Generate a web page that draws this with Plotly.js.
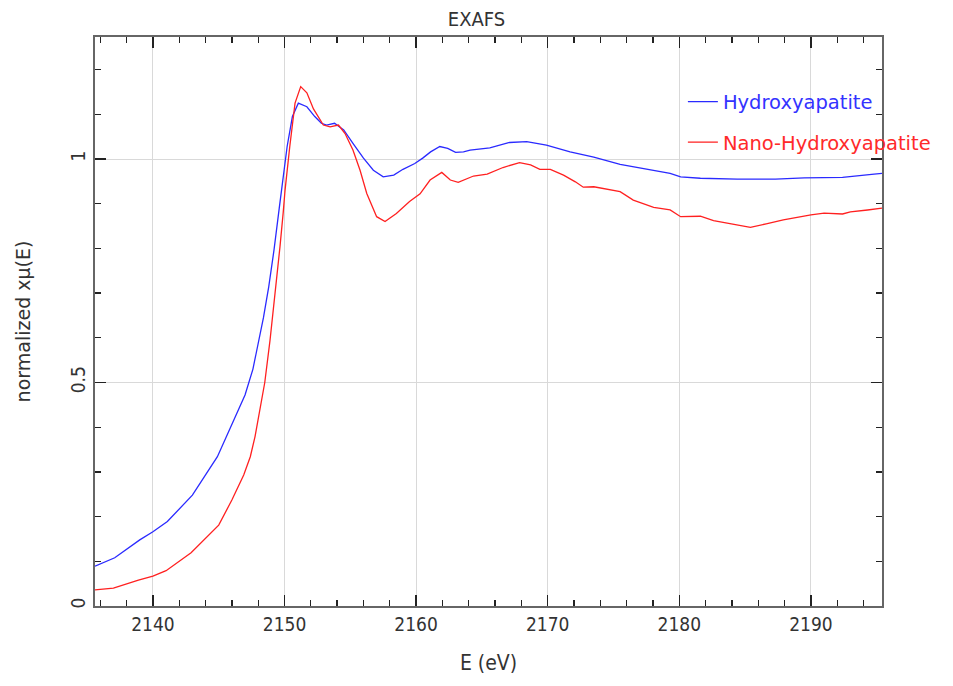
<!DOCTYPE html>
<html>
<head>
<meta charset="utf-8">
<script src="https://cdn.plot.ly/plotly-3.0.1.min.js"></script>
<style>html,body{margin:0;padding:0;background:#fff}#chart{width:953px;height:686px}</style>
</head>
<body>
<div id="chart"></div>
<script>
const seriesNames = ["Hydroxyapatite", "Nano-Hydroxyapatite"];

const energyHA = [2135.6,2137.1,2139.0,2140.0,2141.1,2143.0,2144.9,2146.0,2147.0,2147.6,2148.0,2148.4,2148.8,2149.2,2149.6,2149.9,2150.2,2150.6,2151.05,2151.7,2152.3,2152.8,2153.2,2153.8,2154.5,2155.2,2156.0,2156.75,2157.5,2158.3,2159.0,2159.9,2160.5,2161.1,2161.8,2162.4,2163.0,2163.6,2164.1,2165.6,2167.1,2168.4,2169.9,2171.7,2173.5,2175.5,2177.5,2179.3,2180.1,2181.6,2184.4,2187.3,2189.5,2192.4,2194.8,2195.4];
const muHA = [0.089,0.108,0.148,0.166,0.189,0.248,0.334,0.405,0.472,0.530,0.585,0.645,0.714,0.796,0.890,0.960,1.028,1.095,1.125,1.117,1.095,1.080,1.076,1.080,1.065,1.035,1.002,0.975,0.960,0.964,0.977,0.990,1.002,1.016,1.028,1.024,1.015,1.016,1.020,1.025,1.037,1.039,1.031,1.016,1.004,0.988,0.977,0.968,0.960,0.957,0.955,0.955,0.958,0.959,0.966,0.968];

const energyNano = [2135.6,2137.0,2138.9,2140.0,2141.0,2142.9,2145.0,2146.0,2146.9,2147.4,2147.76,2148.1,2148.3,2148.5,2148.9,2149.35,2149.66,2149.9,2150.04,2150.4,2150.8,2151.23,2151.7,2152.2,2152.95,2153.46,2154.1,2154.6,2155.2,2155.74,2156.25,2157.0,2157.64,2158.5,2159.5,2160.3,2161.06,2161.95,2162.6,2163.2,2164.36,2165.4,2166.6,2167.86,2168.7,2169.4,2170.2,2171.2,2172.1,2172.7,2173.5,2175.5,2176.5,2178.05,2179.3,2180.1,2181.6,2182.6,2185.4,2186.6,2187.9,2190.0,2191.0,2192.4,2193.0,2194.3,2195.4];
const muNano = [0.036,0.040,0.058,0.067,0.079,0.119,0.181,0.237,0.293,0.334,0.379,0.431,0.461,0.500,0.595,0.714,0.805,0.880,0.930,1.028,1.125,1.162,1.148,1.112,1.076,1.072,1.076,1.057,1.020,0.975,0.923,0.871,0.860,0.878,0.905,0.922,0.953,0.970,0.953,0.948,0.962,0.966,0.981,0.992,0.987,0.977,0.977,0.964,0.949,0.937,0.938,0.927,0.908,0.892,0.886,0.871,0.872,0.862,0.847,0.855,0.864,0.875,0.879,0.877,0.882,0.886,0.890];

const xTickVals = [2140,2150,2160,2170,2180,2190];
const yTickVals = [0,0.5,1];
const yTickText = ["0","0.5","1"];

const narrow = "Liberation Sans Narrow, DejaVu Sans Condensed, sans-serif";
const tickFont = {family: narrow, size: 19, color: "#333"};

const traces = [
  {x: energyHA, y: muHA, type: "scatter", mode: "lines", name: '<span style="color:#3333ff">' + seriesNames[0] + '</span>',
   line: {color: "#2a2aff", width: 1.3}, legendgroup: "a"},
  {x: energyNano, y: muNano, type: "scatter", mode: "lines", name: '<span style="color:#ff2a2a">' + seriesNames[1] + '</span>',
   line: {color: "#ff2020", width: 1.3}, legendgroup: "b"}
];

const axisCommon = {
  showline: true, linecolor: "#666", linewidth: 2, mirror: "allticks",
  ticks: "inside", ticklen: 11, tickwidth: 1.5, tickcolor: "#222",
  showgrid: true, gridcolor: "#d9d9d9", gridwidth: 1, zeroline: false,
  tickfont: tickFont
};

const layout = {
  width: 953, height: 686,
  margin: {l: 95, r: 71, t: 37, b: 80},
  paper_bgcolor: "#fff", plot_bgcolor: "#fff",
  title: {text: "EXAFS", font: {family: narrow, size: 20, color: "#333"}, x: 0.5, xanchor: "center", y: 0.973, yanchor: "middle"},
  xaxis: Object.assign({}, axisCommon, {
    range: [2135.6, 2195.4], tickvals: xTickVals, ticktext: xTickVals.map(String),
    minor: {dtick: 2, tick0: 2134, ticks: "inside", ticklen: 6, tickwidth: 1.3, tickcolor: "#222", showgrid: false},
    title: {text: "E (eV)", font: {family: narrow, size: 21, color: "#333"}, standoff: 22}
  }),
  yaxis: Object.assign({}, axisCommon, {
    range: [0, 1.273], tickvals: yTickVals, ticktext: yTickText, tickangle: -90,
    minor: {dtick: 0.1, tick0: 0, ticks: "inside", ticklen: 6, tickwidth: 1.3, tickcolor: "#222", showgrid: false},
    title: {text: "normalized xμ(E)", font: {family: "DejaVu Sans, sans-serif", size: 19, color: "#333"}, standoff: 32}
  }),
  showlegend: true,
  legend: {x: 0.747, xanchor: "left", y: 0.92, yanchor: "top", bgcolor: "rgba(0,0,0,0)", borderwidth: 0,
    font: {family: "DejaVu Sans, sans-serif", size: 19.5}, tracegroupgap: 12, traceorder: "grouped"}
};

Plotly.newPlot("chart", traces, layout, {displayModeBar: false, staticPlot: true});
</script>
</body>
</html>
